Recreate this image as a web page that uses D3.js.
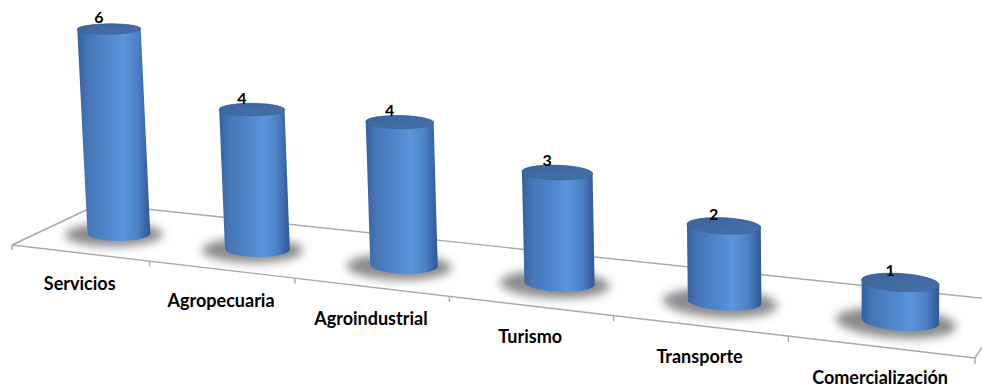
<!DOCTYPE html>
<html>
<head>
<meta charset="utf-8">
<script src="https://cdn.jsdelivr.net/npm/d3@7"></script>
<style>
  html, body { margin: 0; padding: 0; background: #ffffff; }
  svg { display: block; }
  text { font-family: Lato, "Open Sans", sans-serif; font-weight: bold; fill: #000; }
</style>
</head>
<body>
<svg id="chart" width="982" height="389"></svg>
<script>
// ---- data ----
const categories = ["Servicios", "Agropecuaria", "Agroindustrial", "Turismo", "Transporte", "Comercialización"];
const values = [6, 4, 4, 3, 2, 1];

// ---- perspective floor: screen corners of the floor plane ----
// order: front-left, front-right, back-right, back-left
const floorQuad = [[12, 245], [975, 358], [1012, 301.5], [99, 204]];
const verticalVanish = [880, 16000];   // vertical edges converge far below

// square-to-quad homography for the floor (s along categories, t into depth)
function makeProjection(q, vp) {
  const [[x0, y0], [x1, y1], [x2, y2], [x3, y3]] = q;
  const dx1 = x1 - x2, dx2 = x3 - x2, dx3 = x0 - x1 + x2 - x3;
  const dy1 = y1 - y2, dy2 = y3 - y2, dy3 = y0 - y1 + y2 - y3;
  const den = dx1 * dy2 - dx2 * dy1;
  const g = (dx3 * dy2 - dx2 * dy3) / den;
  const h = (dx1 * dy3 - dx3 * dy1) / den;
  const a = x1 - x0 + g * x1, b = x3 - x0 + h * x3, c = x0;
  const d = y1 - y0 + g * y1, e = y3 - y0 + h * y3, f = y0;
  const wz = -1 / vp[1];          // homogeneous term of the vertical direction
  const xz = vp[0] * wz;
  return function (s, t, z) {
    const w = g * s + h * t + 1 + wz * z;
    return [(a * s + b * t + c + xz * z) / w, (d * s + e * t + f - z) / w];
  };
}
const project = makeProjection(floorQuad, verticalVanish);

// ---- scales ----
const x = d3.scaleBand().domain(categories).range([0, 1]);        // position along the floor
const y = d3.scaleLinear().domain([0, 6]).range([0, 207.6]);       // value -> column height
const depth = 0.45;                  // column centre, fraction of floor depth
const rS = 0.21 / categories.length;  // column radius along the category axis
const rT = 0.16;                      // column radius into depth

const svg = d3.select("#chart");
const defs = svg.append("defs");

const grad = defs.append("linearGradient").attr("id", "colBody")
  .attr("x1", 0).attr("x2", 1).attr("y1", 0).attr("y2", 0);
[[0, "#345f9d"], [0.12, "#4474b5"], [0.45, "#5189cf"], [0.62, "#5b95db"],
 [0.82, "#4e82c6"], [1, "#2f5795"]].forEach(([o, c]) =>
  grad.append("stop").attr("offset", o).attr("stop-color", c));

const topGrad = defs.append("linearGradient").attr("id", "colTop")
  .attr("x1", 0).attr("x2", 1).attr("y1", 0).attr("y2", 1);
[[0, "#3b649c"], [1, "#4571aa"]].forEach(([o, c]) =>
  topGrad.append("stop").attr("offset", o).attr("stop-color", c));

defs.append("filter").attr("id", "soft")
  .attr("x", "-50%").attr("y", "-80%").attr("width", "200%").attr("height", "260%")
  .append("feGaussianBlur").attr("stdDeviation", 5);

const line = d3.line();

// ellipse on a horizontal slice of a column
function ring(sc, tc, z, rs, rt, n = 72) {
  return d3.range(n).map(i => {
    const a = (i / n) * 2 * Math.PI;
    return project(sc + rs * Math.cos(a), tc + rt * Math.sin(a), z);
  });
}

// ---- floor ----
const floor = svg.append("g").attr("fill", "none").attr("stroke", "#a9a9a9").attr("stroke-width", 1.4);
floor.append("path").attr("d", line([project(0, 1, 0), project(1, 1, 0)]));        // back edge
floor.append("path").attr("d", line([project(0, 0, 0), project(0, 1, 0)]));        // left edge
floor.append("path").attr("d", line([project(1, 0, 0), project(1, 1, 0)]));        // right edge
floor.append("path").attr("d", line([project(0, 0, 0), project(1, 0, 0)]));        // front edge

// category ticks on the front edge
const tickPos = d3.range(categories.length + 1).map(i => i / categories.length);
floor.selectAll("path.tick").data(tickPos).join("path").attr("class", "tick")
  .attr("d", s => line([project(s, 0, 0), project(s, 0, -y(0.15))]));

// ---- columns ----
const cols = categories.map((cat, i) => ({
  cat, value: values[i], s: x(cat) + x.bandwidth() / 2
}));

// contact shadows
svg.append("g").selectAll("path").data(cols).join("path")
  .attr("d", d => line(ring(d.s - 0.003, depth - 0.03, 0, rS * 1.55, rT * 1.6)) + "Z")
  .attr("fill", "#555555").attr("opacity", 0.68).attr("filter", "url(#soft)");

const colG = svg.append("g").selectAll("g").data(cols).join("g");
colG.append("path")
  .attr("d", d => {
    const pts = ring(d.s, depth, 0, rS, rT).concat(ring(d.s, depth, y(d.value), rS, rT));
    return line(d3.polygonHull(pts)) + "Z";
  })
  .attr("fill", "url(#colBody)");
colG.append("path")
  .attr("d", d => line(ring(d.s, depth, y(d.value), rS, rT)) + "Z")
  .attr("fill", "url(#colTop)")
  .attr("stroke", "#3a6299").attr("stroke-width", 0.6);

// value labels above each column
svg.append("g").selectAll("text").data(cols).join("text")
  .attr("x", d => project(d.s, depth, y(d.value))[0] - 10)
  .attr("y", d => project(d.s, depth, y(d.value))[1] - 6)
  .attr("text-anchor", "middle")
  .attr("font-size", 16)
  .text(d => d.value);

// category labels below the front edge
svg.append("g").selectAll("text").data(cols).join("text")
  .attr("x", d => project(d.s, 0, 0)[0])
  .attr("y", d => project(d.s, 0, 0)[1] + 37.5)
  .attr("text-anchor", "middle")
  .attr("font-size", 18)
  .text(d => d.cat);
</script>
</body>
</html>
